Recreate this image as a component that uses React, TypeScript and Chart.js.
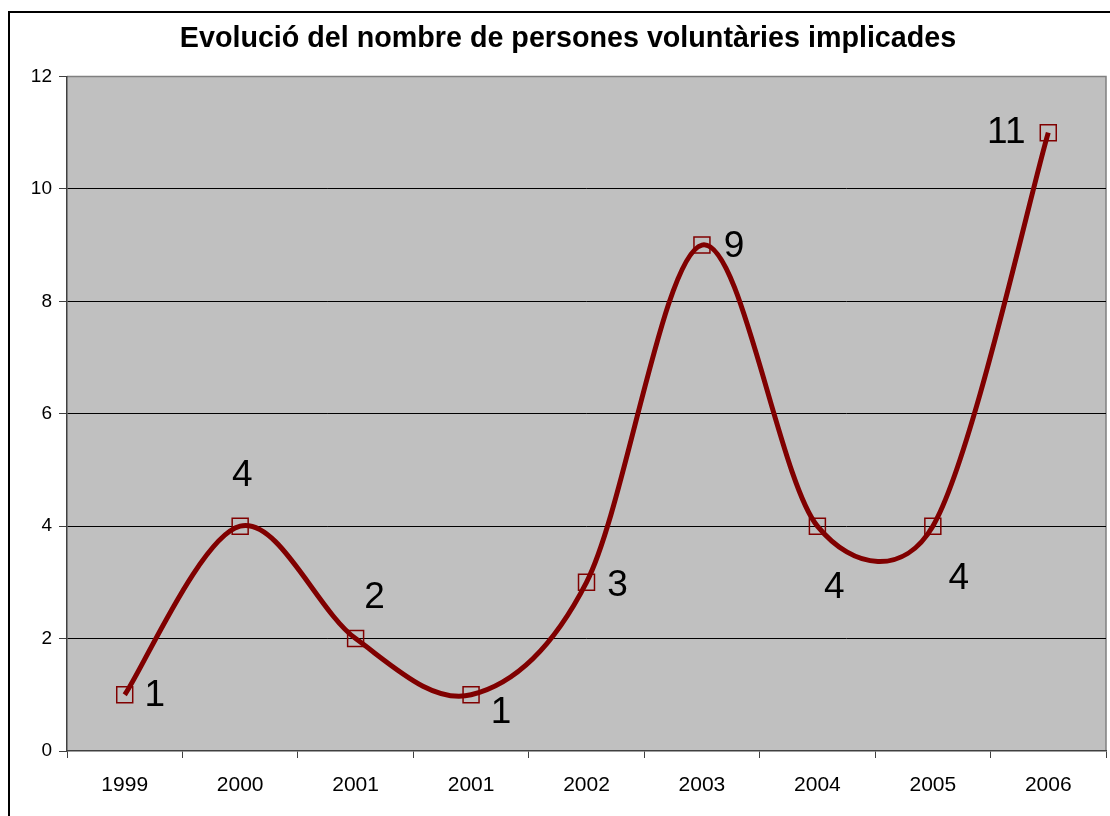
import React, { useEffect, useRef } from "react";
import { Chart, registerables } from "chart.js";

Chart.register(...registerables);

const TITLE = "Evolució del nombre de persones voluntàries implicades";
const CATEGORIES = ["1999", "2000", "2001", "2001", "2002", "2003", "2004", "2005", "2006"];
const VOLUNTEERS = [1, 4, 2, 1, 3, 9, 4, 4, 11];
const Y_MIN = 0;
const Y_MAX = 12;
const Y_STEP = 2;

// label placement (pixel offsets from each point), like Excel's per-label positions
const LABEL_OFFSETS: [number, number][] = [
  [30, 1],
  [2, -50],
  [19, -41],
  [30, 18],
  [31, 3],
  [32, 2],
  [17, 62],
  [26, 53],
  [-42, 0],
];

const LINE_COLOR = "#800000";
const AXIS_COLOR = "#404040";
const FONT = '"Liberation Sans", Arial, sans-serif';

const plotBackground = {
  id: "plotBackground",
  beforeDraw(chart: any) {
    const { ctx, chartArea } = chart;
    const { left, top, right, bottom } = chartArea;
    ctx.save();
    ctx.fillStyle = "#C0C0C0";
    ctx.fillRect(left, top, right - left, bottom - top);
    ctx.strokeStyle = "#808080";
    ctx.lineWidth = 1.5;
    ctx.beginPath();
    ctx.moveTo(left, top);
    ctx.lineTo(right, top);
    ctx.lineTo(right, bottom);
    ctx.stroke();
    ctx.restore();
  },
};

// Excel-style smoothing: Bezier control points from neighbours (1/6 rule, capped)
const excelSmoothing = {
  id: "excelSmoothing",
  beforeDatasetsDraw(chart: any) {
    const meta = chart.getDatasetMeta(0);
    const pts = meta.data;
    const n = pts.length;
    const dist = (a: any, b: any) => Math.hypot(b.x - a.x, b.y - a.y);
    for (let i = 0; i < n - 1; i++) {
      const p0 = pts[Math.max(i - 1, 0)];
      const p1 = pts[i];
      const p2 = pts[i + 1];
      const p3 = pts[Math.min(i + 2, n - 1)];
      const d12 = dist(p1, p2);
      const d02 = dist(p0, p2);
      const d13 = dist(p1, p3);
      const f1 = d02 / 6 < d12 / 2 ? 1 / 6 : d12 / (2 * d02);
      const f2 = d13 / 6 < d12 / 2 ? 1 / 6 : d12 / (2 * d13);
      p1.cp2x = p1.x + f1 * (p2.x - p0.x);
      p1.cp2y = p1.y + f1 * (p2.y - p0.y);
      p2.cp1x = p2.x - f2 * (p3.x - p1.x);
      p2.cp1y = p2.y - f2 * (p3.y - p1.y);
    }
    if (n) {
      pts[0].cp1x = pts[0].x;
      pts[0].cp1y = pts[0].y;
      pts[n - 1].cp2x = pts[n - 1].x;
      pts[n - 1].cp2y = pts[n - 1].y;
    }
    if (meta.dataset) {
      meta.dataset._pointsUpdated = true;
      meta.dataset._path = undefined;
    }
  },
};

const pointLabels = {
  id: "pointLabels",
  afterDatasetsDraw(chart: any) {
    const { ctx } = chart;
    const meta = chart.getDatasetMeta(0);
    const data = chart.data.datasets[0].data;
    ctx.save();
    ctx.font = "37px " + FONT;
    ctx.fillStyle = "#000";
    ctx.textAlign = "center";
    ctx.textBaseline = "middle";
    meta.data.forEach((pt: any, i: number) => {
      const [dx, dy] = LABEL_OFFSETS[i] || [0, 0];
      ctx.fillText(String(data[i]), pt.x + dx, pt.y + dy);
    });
    ctx.restore();
  },
};

export default function App() {
  const canvasRef = useRef<HTMLCanvasElement | null>(null);

  useEffect(() => {
    if (!canvasRef.current) return;
    const chart = new Chart(canvasRef.current, {
      type: "line",
      data: {
        labels: CATEGORIES,
        datasets: [
          {
            data: VOLUNTEERS,
            borderColor: LINE_COLOR,
            borderWidth: 5,
            tension: 0.5,
            fill: false,
            pointStyle: "rect",
            pointRadius: 11.3,
            pointBorderWidth: 1.5,
            pointBorderColor: LINE_COLOR,
            pointBackgroundColor: "rgba(0,0,0,0)",
          },
        ],
      },
      plugins: [plotBackground, excelSmoothing, pointLabels],
      options: {
        animation: false,
        responsive: false,
        maintainAspectRatio: false,
        layout: { autoPadding: false, padding: { left: 30, right: 4, top: 0, bottom: 0 } },
        plugins: {
          legend: { display: false },
          tooltip: { enabled: false },
          title: {
            display: true,
            text: TITLE,
            color: "#000",
            font: { family: FONT, size: 28.7, weight: "bold" },
            padding: { top: 22, bottom: 20 },
          },
        },
        scales: {
          x: {
            type: "category",
            offset: true,
            afterFit(scale: any) {
              scale.height = 65;
              scale.paddingLeft = 0;
              scale.paddingRight = 0;
            },
            grid: {
              offset: true,
              drawOnChartArea: false,
              drawTicks: true,
              tickLength: 7,
              tickColor: AXIS_COLOR,
              tickWidth: 1,
            },
            border: { display: true, color: AXIS_COLOR, width: 1.5 },
            ticks: {
              color: "#000",
              padding: 15,
              maxRotation: 0,
              autoSkip: false,
              font: { family: FONT, size: 21 },
            },
          },
          y: {
            min: Y_MIN,
            max: Y_MAX,
            afterFit(scale: any) {
              scale.width = 37;
            },
            grid: {
              color: (c: any) =>
                c.tick && (c.tick.value === Y_MIN || c.tick.value === Y_MAX) ? "rgba(0,0,0,0)" : "#000",
              lineWidth: 1,
              drawTicks: true,
              tickLength: 8,
              tickColor: AXIS_COLOR,
              tickWidth: 1,
            },
            border: { display: true, color: AXIS_COLOR, width: 1.5 },
            ticks: {
              stepSize: Y_STEP,
              color: "#000",
              padding: 7,
              font: { family: FONT, size: 19 },
            },
          },
        },
      },
    });
    return () => chart.destroy();
  }, []);

  return (
    <div
      style={{
        position: "fixed",
        left: 0,
        top: 0,
        width: 1110,
        height: 816,
        overflow: "hidden",
        background: "#fff",
      }}
    >
      <div
        style={{
          position: "absolute",
          left: 8,
          top: 11,
          width: 1200,
          height: 900,
          border: "2px solid #000",
          boxSizing: "border-box",
        }}
      />
      <canvas
        ref={canvasRef}
        width={1110}
        height={816}
        style={{ position: "absolute", left: 0, top: 0, width: 1110, height: 816 }}
      />
    </div>
  );
}
